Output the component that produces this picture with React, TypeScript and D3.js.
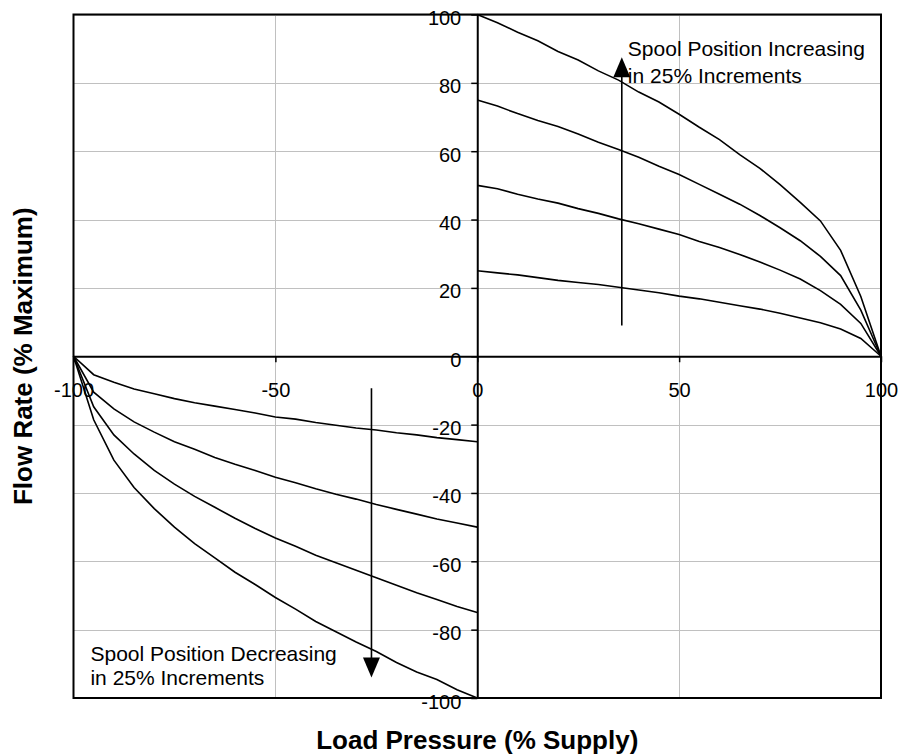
import React, { useRef, useEffect } from 'react';
import { select, scaleLinear, line, axisLeft, axisBottom } from 'd3';

// load pressure (% supply) sample points
const pressurePos = [0, 5, 10, 15, 20, 25, 30, 35, 40, 45, 50, 55, 60, 65, 70, 75, 80, 85, 90, 95, 100];
const pressureNeg = [-100, -95, -90, -85, -80, -75, -70, -65, -60, -55, -50, -45, -40, -35, -30, -25, -20, -15, -10, -5, 0];

// flow rate (% maximum), spool opening 100 / 75 / 50 / 25 %
const flowPos100 = [100, 97.6, 94.8, 92.3, 89.2, 86.7, 83.5, 80.8, 77.3, 74.4, 70.8, 67.0, 63.4, 59.0, 55.0, 50.2, 45.0, 39.6, 31.0, 17.5, 0];
const flowPos75 = [75, 73.2, 71.0, 69.0, 67.2, 65.0, 62.6, 60.5, 58.2, 55.6, 53.2, 50.3, 47.4, 44.5, 41.2, 37.6, 33.8, 29.2, 23.6, 13.5, 0];
const flowPos50 = [50, 49.0, 47.4, 46.0, 44.8, 43.2, 41.8, 40.2, 38.8, 37.2, 35.6, 33.6, 31.8, 29.8, 27.6, 25.2, 22.6, 19.2, 15.2, 9.6, 0];
const flowPos25 = [25, 24.4, 23.8, 23.0, 22.2, 21.6, 21.0, 20.2, 19.4, 18.6, 17.6, 16.8, 15.8, 14.8, 13.8, 12.6, 11.2, 9.8, 8.0, 5.2, 0];

const flowNeg25 = [0, -5.4, -7.6, -9.6, -11.0, -12.4, -13.6, -14.6, -15.6, -16.6, -17.8, -18.4, -19.4, -20.2, -21.0, -21.6, -22.4, -23.0, -23.8, -24.4, -25];
const flowNeg50 = [0, -10.5, -15.4, -19.2, -22.2, -25.0, -27.2, -29.6, -31.6, -33.4, -35.4, -37.0, -38.8, -40.4, -41.8, -43.4, -44.8, -46.2, -47.6, -48.8, -50];
const flowNeg75 = [0, -14.8, -23.0, -28.6, -33.4, -37.4, -41.0, -44.2, -47.4, -50.4, -53.2, -55.6, -58.2, -60.4, -62.6, -64.8, -67.0, -69.2, -71.2, -73.2, -75];
const flowNeg100 = [0, -18.6, -30.4, -38.4, -44.6, -50.0, -54.8, -59.0, -63.2, -66.8, -70.6, -74.0, -77.6, -80.6, -83.6, -86.4, -89.6, -92.4, -94.6, -97.6, -100];

const yTicks = [-100, -80, -60, -40, -20, 0, 20, 40, 60, 80, 100];
const xTicks = [-100, -50, 0, 50, 100];
const xGrid = [-50, 50];

const xTitle = 'Load Pressure (% Supply)';
const yTitle = 'Flow Rate (% Maximum)';
const noteUp = ['Spool Position Increasing', 'in 25% Increments'];
const noteDown = ['Spool Position Decreasing', 'in 25% Increments'];

const WIDTH = 900;
const HEIGHT = 754;
const FONT = 'Arial, "Liberation Sans", sans-serif';

const Chart = () => {
    const svgRef = useRef(null);

    useEffect(() => {
        const svg = select(svgRef.current);
        svg.selectAll('*').remove();

        const x = scaleLinear().domain([-100, 100]).range([73.5, 881]);
        const y = scaleLinear().domain([-100, 100]).range([698, 14.5]);

        // gridlines
        const grid = svg.append('g').attr('stroke', '#c0c0c0').attr('stroke-width', 1);
        grid.selectAll('.hgrid')
            .data(yTicks)
            .join('line')
            .attr('x1', x(-100)).attr('x2', x(100))
            .attr('y1', d => Math.round(y(d)) + 0.5).attr('y2', d => Math.round(y(d)) + 0.5);
        grid.selectAll('.vgrid')
            .data(xGrid)
            .join('line')
            .attr('y1', y(100)).attr('y2', y(-100))
            .attr('x1', d => Math.round(x(d)) + 0.5).attr('x2', d => Math.round(x(d)) + 0.5);

        // flow curves
        const lineGen = line().x(d => x(d[0])).y(d => y(d[1]));
        const series = [
            [pressurePos, flowPos100], [pressurePos, flowPos75], [pressurePos, flowPos50], [pressurePos, flowPos25],
            [pressureNeg, flowNeg25], [pressureNeg, flowNeg50], [pressureNeg, flowNeg75], [pressureNeg, flowNeg100]
        ];
        svg.append('g')
            .selectAll('path')
            .data(series.map(([ps, qs]) => ps.map((p, i) => [p, qs[i]])))
            .join('path')
            .attr('d', lineGen)
            .attr('fill', 'none')
            .attr('stroke', '#000')
            .attr('stroke-width', 1.6);

        // axes through the origin (plain hyphen minus, like the original)
        const fmt = d => String(d);
        const yAxis = axisLeft(y).tickValues(yTicks).tickFormat(fmt).tickSize(6).tickSizeOuter(0).tickPadding(10);
        const xAxis = axisBottom(x).tickValues(xTicks).tickFormat(fmt).tickSize(6).tickSizeOuter(0).tickPadding(21);

        const gy = svg.append('g').attr('transform', `translate(${x(0)},0)`).call(yAxis);
        const gx = svg.append('g').attr('transform', `translate(0,${y(0)})`).call(xAxis);
        [gx, gy].forEach(g => {
            g.attr('font-family', FONT).attr('font-size', 20);
            g.select('.domain').attr('stroke', '#000').attr('stroke-width', 2);
            g.selectAll('.tick line').attr('stroke', '#000').attr('stroke-width', 1.5);
            g.selectAll('.tick text').attr('fill', '#000');
        });
        gy.selectAll('.tick text').attr('dy', '0.5em');

        // plot border
        svg.append('rect')
            .attr('x', x(-100)).attr('y', y(100))
            .attr('width', x(100) - x(-100)).attr('height', y(-100) - y(100))
            .attr('fill', 'none').attr('stroke', '#000').attr('stroke-width', 2);

        // arrows
        const arrows = [
            { p: 35.8, from: 9, to: 87.5 },
            { p: -26.2, from: -9.4, to: -94 }
        ];
        arrows.forEach(a => {
            const ax = x(a.p);
            const y0 = y(a.from);
            const y1 = y(a.to);
            const dir = y1 < y0 ? 1 : -1;
            svg.append('line')
                .attr('x1', ax).attr('x2', ax)
                .attr('y1', y0).attr('y2', y1 + dir * 18)
                .attr('stroke', '#000').attr('stroke-width', 1.6);
            svg.append('path')
                .attr('d', `M${ax},${y1} L${ax - 8.5},${y1 + dir * 20} L${ax + 8.5},${y1 + dir * 20} Z`)
                .attr('fill', '#000');
        });

        // annotations
        const notes = [
            { lines: noteUp, p: 37.3, q: [87.8, 79.9] },
            { lines: noteDown, p: -95.8, q: [-89.2, -96.3] }
        ];
        notes.forEach(n => {
            n.lines.forEach((t, i) => {
                svg.append('text')
                    .attr('x', x(n.p)).attr('y', y(n.q[i]))
                    .attr('font-family', FONT).attr('font-size', 21)
                    .attr('fill', '#000')
                    .text(t);
            });
        });

        // axis titles
        svg.append('text')
            .attr('x', x(0)).attr('y', 749)
            .attr('text-anchor', 'middle')
            .attr('font-family', FONT).attr('font-size', 26).attr('font-weight', 'bold')
            .text(xTitle);
        svg.append('text')
            .attr('transform', `translate(32,${y(0)}) rotate(-90)`)
            .attr('text-anchor', 'middle')
            .attr('font-family', FONT).attr('font-size', 26).attr('font-weight', 'bold')
            .text(yTitle);
    }, []);

    return (
        <svg ref={svgRef} width={WIDTH} height={HEIGHT}
            style={{ position: 'absolute', left: 0, top: 0, background: '#fff' }} />
    );
};

export default function App() {
    return <Chart />;
}
